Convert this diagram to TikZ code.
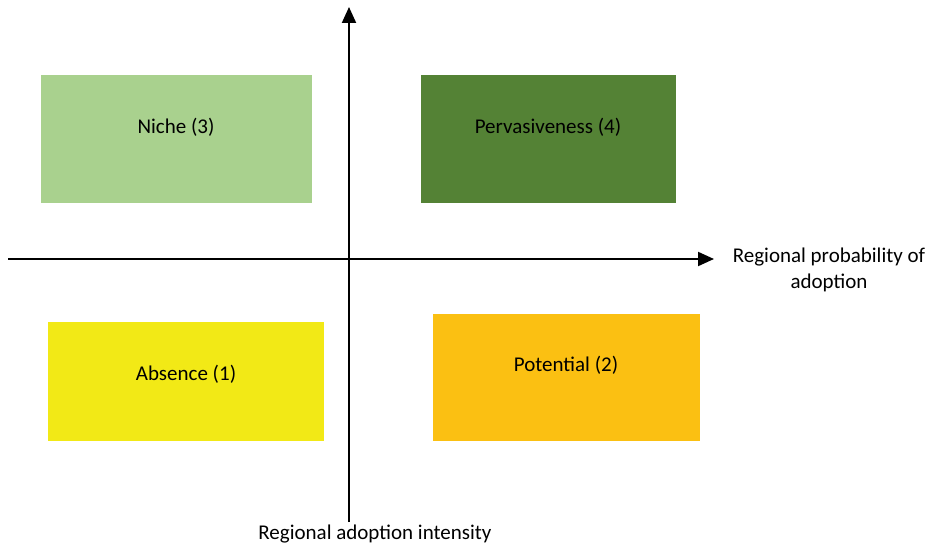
\documentclass[tikz,border=0pt]{standalone}
\usepackage{fontspec}
\setmainfont{Carlito}
\usetikzlibrary{arrows.meta}
\definecolor{nichegreen}{RGB}{169,209,142}
\definecolor{pervgreen}{RGB}{84,130,53}
\definecolor{absyellow}{RGB}{242,233,22}
\definecolor{potorange}{RGB}{251,192,18}

\begin{document}
\begin{tikzpicture}[x=1pt,y=-1pt,
  quad/.style={fill=#1,draw=none},
  quadtext/.style={font=\fontsize{21}{26}\selectfont,text=black},
  axis/.style={line width=2pt,-{Triangle[width=14pt,length=16pt]}}]
\useasboundingbox (0,0) rectangle (929,545);
% the four quadrants
\filldraw[quad=nichegreen] (41,75) rectangle (312,203);
\filldraw[quad=pervgreen] (421,75) rectangle (676,203);
\filldraw[quad=absyellow] (48,322) rectangle (324,441);
\filldraw[quad=potorange] (433,314) rectangle (700,441);
\node[quadtext] (niche) at (176,127) {Niche (3)};
\node[quadtext] (perv) at (548,127) {Pervasiveness (4)};
\node[quadtext] (absence) at (186,374) {Absence (1)};
\node[quadtext] (potential) at (566,365) {Potential (2)};
% axes
\coordinate (xstart) at (8,259);
\coordinate (xend) at (714,259);
\coordinate (ystart) at (349,522);
\coordinate (yend) at (349,7);
\draw[axis] (xstart) -- (xend);
\draw[axis] (ystart) -- (yend);
\node[quadtext,align=center] (xlabel) at (829,270) {Regional probability of\\adoption};
\node[quadtext] (ylabel) at (375,534) {Regional adoption intensity};
\end{tikzpicture}
\end{document}
